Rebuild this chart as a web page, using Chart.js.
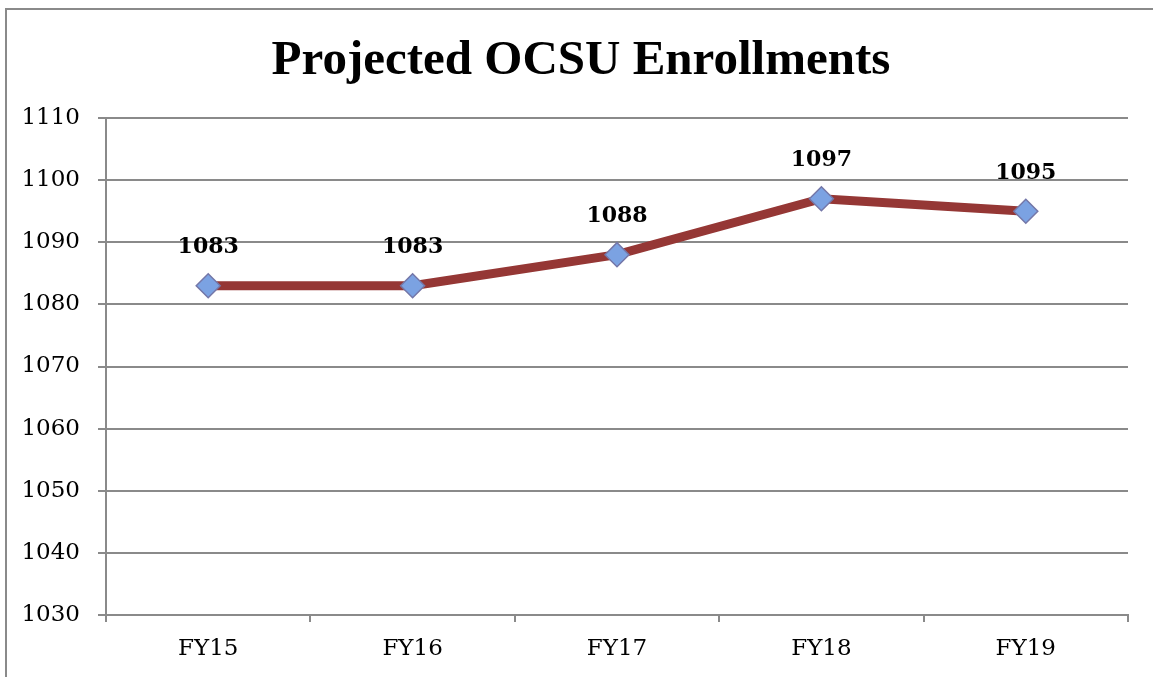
<!DOCTYPE html>
<html>
<head>
<meta charset="utf-8">
<script src="https://cdn.jsdelivr.net/npm/chart.js@4"></script>
<style>
  html, body { margin: 0; padding: 0; background: #fff; }
  #wrap { width: 1153px; height: 677px; position: relative; }
</style>
</head>
<body>
<div id="wrap"><canvas id="chart" width="1153" height="677"></canvas></div>
<script>
const categories = ['FY15', 'FY16', 'FY17', 'FY18', 'FY19'];
const enrollments = [1083, 1083, 1088, 1097, 1095];
const yMin = 1030, yMax = 1110, yStep = 10;
const chartTitle = 'Projected OCSU Enrollments';

const gridGray = '#8a8a8a';

// outer frame of the chart object (right and bottom edges are cut off)
const framePlugin = {
  id: 'frame',
  beforeDraw(c) {
    const ctx = c.ctx;
    ctx.save();
    ctx.strokeStyle = gridGray;
    ctx.lineWidth = 2;
    ctx.beginPath();
    ctx.moveTo(6, c.height + 2);
    ctx.lineTo(6, 9);
    ctx.lineTo(c.width + 2, 9);
    ctx.stroke();
    // title sits slightly left of the plot centre, as in the original
    ctx.font = 'bold 49px "Liberation Serif", serif';
    ctx.fillStyle = '#000';
    ctx.textAlign = 'center';
    ctx.textBaseline = 'alphabetic';
    ctx.fillText(chartTitle, 581, 74);
    ctx.restore();
  }
};

// value labels above each marker
const valueLabels = {
  id: 'valueLabels',
  afterDatasetsDraw(c) {
    const ctx = c.ctx;
    const meta = c.getDatasetMeta(0);
    ctx.save();
    ctx.font = 'bold 22px "DejaVu Serif", serif';
    ctx.fillStyle = '#000';
    ctx.textAlign = 'center';
    ctx.textBaseline = 'middle';
    meta.data.forEach((pt, i) => {
      ctx.fillText(String(c.data.datasets[0].data[i]), pt.x, pt.y - 38);
    });
    ctx.restore();
  }
};

new Chart(document.getElementById('chart'), {
  type: 'line',
  data: {
    labels: categories,
    datasets: [{
      label: 'Enrollments',
      data: enrollments,
      borderColor: '#953735',
      borderWidth: 9,
      tension: 0,
      pointStyle: 'rectRot',
      pointRadius: 12,
      pointHoverRadius: 12,
      pointBackgroundColor: '#7ba2e2',
      pointBorderColor: '#7477a8',
      pointBorderWidth: 1.5
    }]
  },
  options: {
    responsive: false,
    animation: false,
    layout: { padding: { top: 118, right: 25, bottom: 0, left: 0 } },
    plugins: {
      legend: { display: false },
      tooltip: { enabled: false },
      title: { display: false }
    },
    scales: {
      x: {
        offset: true,
        grid: { offset: true, drawOnChartArea: false, color: gridGray, lineWidth: 2, tickLength: 7 },
        border: { color: gridGray, width: 2 },
        ticks: { color: '#000', padding: 13, maxRotation: 0, font: { family: '"DejaVu Serif", serif', size: 23 } },
        afterFit(s) { s.height = 62; }
      },
      y: {
        min: yMin, max: yMax,
        grid: { color: gridGray, lineWidth: 2, tickLength: 8 },
        border: { color: gridGray, width: 2 },
        ticks: {
          stepSize: yStep, color: '#000', padding: 18,
          font: { family: '"DejaVu Serif", serif', size: 23 },
          callback: v => String(v)
        },
        afterFit(s) { s.width = 106; }
      }
    }
  },
  plugins: [framePlugin, valueLabels]
});
</script>
</body>
</html>
